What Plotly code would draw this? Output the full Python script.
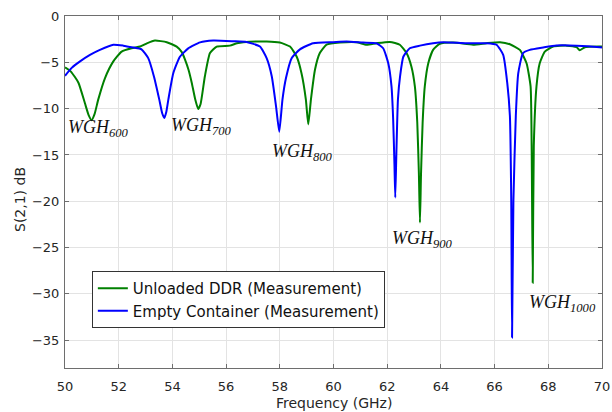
import plotly.graph_objects as go

# Unloaded DDR (Measurement) - green
green_freq = [50.00, 50.22, 50.50, 50.74, 50.88, 50.99, 51.10, 51.24, 51.49, 51.80,
              52.11, 52.48, 52.80, 53.05, 53.35, 53.79, 54.16, 54.35, 54.47, 54.60,
              54.72, 54.85, 54.96, 55.05, 55.21, 55.40, 55.65, 56.14, 56.40, 56.64,
              57.51, 58.00, 58.38, 58.63, 58.81, 58.97, 59.06, 59.16, 59.31, 59.49,
              59.74, 60.24, 60.86, 61.23, 61.60, 62.10, 62.47, 62.72, 62.90, 63.03,
              63.12, 63.18, 63.22, 63.26, 63.32, 63.40, 63.53, 63.71, 63.96, 64.46,
              65.20, 65.70, 66.20, 66.57, 66.94, 67.19, 67.34, 67.38, 67.42, 67.46,
              67.56, 67.68, 67.87, 68.18, 68.68, 69.05, 69.17, 69.36, 69.92, 70.00]
green_db = [-5.55, -6.0, -7.2, -9.4, -10.7, -11.25, -10.6, -9.0, -6.7, -4.9,
            -3.84, -3.48, -3.3, -2.95, -2.65, -2.83, -3.3, -3.9, -4.7, -5.8,
            -7.2, -9.0, -10.05, -9.5, -6.5, -4.0, -3.3, -3.2, -2.95, -2.83,
            -2.76, -2.87, -3.3, -4.4, -6.2, -9.0, -11.7, -9.0, -5.8, -4.0,
            -3.1, -2.87, -2.83, -3.1, -2.94, -2.8, -3.1, -4.0, -5.45, -7.6,
            -11.5, -17.0, -22.3, -17.0, -11.5, -7.6, -5.1, -3.66, -3.0, -2.87,
            -3.1, -2.94, -2.83, -3.05, -3.66, -5.1, -7.6, -14.0, -28.8, -14.0,
            -7.6, -5.1, -3.84, -3.3, -3.2, -3.37, -3.7, -3.37, -3.3, -3.3]

# Empty Container (Measurement) - blue
blue_freq = [50.00, 50.25, 50.56, 50.93, 51.30, 51.80, 52.17, 52.54, 52.85, 53.10,
             53.31, 53.51, 53.62, 53.70, 53.77, 53.85, 54.03, 54.28, 54.59, 55.03,
             55.52, 56.27, 56.76, 57.26, 57.51, 57.70, 57.86, 57.98, 58.10, 58.23,
             58.44, 58.75, 59.24, 59.99, 60.49, 61.10, 61.60, 61.85, 62.04, 62.16,
             62.22, 62.27, 62.30, 62.34, 62.40, 62.48, 62.60, 62.84, 63.22, 63.71,
             64.08, 64.95, 65.70, 66.07, 66.32, 66.47, 66.57, 66.62, 66.65, 66.70,
             66.79, 66.88, 67.06, 67.31, 67.81, 68.30, 69.05, 69.92, 70.00]
blue_db = [-6.45, -5.6, -4.9, -4.2, -3.66, -3.1, -3.2, -3.4, -3.6, -4.55,
           -6.5, -9.0, -10.5, -11.0, -10.4, -9.0, -6.2, -4.4, -3.5, -2.85,
           -2.65, -2.72, -2.8, -3.3, -4.55, -6.5, -9.75, -12.5, -9.0, -6.7,
           -4.55, -3.6, -2.94, -2.83, -2.76, -2.87, -2.94, -3.48, -5.1, -7.6,
           -11.0, -16.0, -19.6, -15.0, -9.0, -6.5, -4.4, -3.48, -3.2, -2.94,
           -2.83, -2.94, -2.94, -3.1, -4.2, -7.2, -10.8, -20.0, -34.7, -20.0,
           -10.8, -6.2, -4.0, -3.66, -3.4, -3.18, -3.2, -3.37, -3.4]

series_names = ["Unloaded DDR (Measurement)", "Empty Container (Measurement)"]

label_texts = ["600", "700", "800", "900", "1000"]
label_x = [50.05, 53.87, 57.63, 62.10, 67.22]
label_y = [-12.1, -11.9, -14.7, -24.1, -31.0]

x_ticks = [50, 52, 54, 56, 58, 60, 62, 64, 66, 68, 70]
y_ticks = [0, -5, -10, -15, -20, -25, -30, -35]

FONT = "DejaVu Sans"

fig = go.Figure()
fig.add_trace(go.Scatter(x=green_freq, y=green_db, mode="lines", name=series_names[0],
                         line=dict(color="#008000", width=2, shape="spline", smoothing=0.5)))
fig.add_trace(go.Scatter(x=blue_freq, y=blue_db, mode="lines", name=series_names[1],
                         line=dict(color="#0000ff", width=2, shape="spline", smoothing=0.5)))

for t, x, y in zip(label_texts, label_x, label_y):
    fig.add_annotation(x=x, y=y, xref="x", yref="y", xanchor="left", yanchor="middle",
                       text=f"<i>WGH</i><sub><i>{t}</i></sub>", showarrow=False,
                       font=dict(family="Liberation Serif", size=18, color="#111"))

plot_w = 612 - 65 - 10
plot_h = 412 - 16 - 44
fig.add_annotation(x=(20 - 65) / plot_w, y=(412 - 44 - 200) / plot_h,
                   xref="paper", yref="paper", xanchor="center", yanchor="middle",
                   text="S(2,1) dB", showarrow=False, textangle=-90,
                   font=dict(family=FONT, size=14, color="#262626"))
fig.add_annotation(x=0.5, y=(412 - 44 - 403) / plot_h,
                   xref="paper", yref="paper", xanchor="center", yanchor="middle",
                   text="Frequency (GHz)", showarrow=False,
                   font=dict(family=FONT, size=14, color="#262626"))

axis_common = dict(showgrid=True, gridcolor="#e3e3e3", gridwidth=1,
                   showline=True, linecolor="#6e6e6e", linewidth=1, mirror="ticks",
                   ticks="inside", ticklen=4, tickcolor="#6e6e6e", zeroline=False,
                   automargin=False,
                   tickfont=dict(family=FONT, size=13, color="#262626"))

fig.update_xaxes(range=[50, 70], tickvals=x_ticks, ticklabelstandoff=6, **axis_common)
fig.update_yaxes(range=[-38, 0], tickvals=y_ticks, ticklabelstandoff=2, **axis_common)

fig.update_layout(
    width=612, height=412,
    margin=dict(l=65, r=10, t=16, b=44),
    paper_bgcolor="white", plot_bgcolor="white",
    legend=dict(x=0.05, y=0.2756, xanchor="left", yanchor="top",
                bgcolor="white", bordercolor="#333", borderwidth=1,
                font=dict(family=FONT, size=15, color="#111"),
                tracegroupgap=0),
)

fig.write_html("out.html")
